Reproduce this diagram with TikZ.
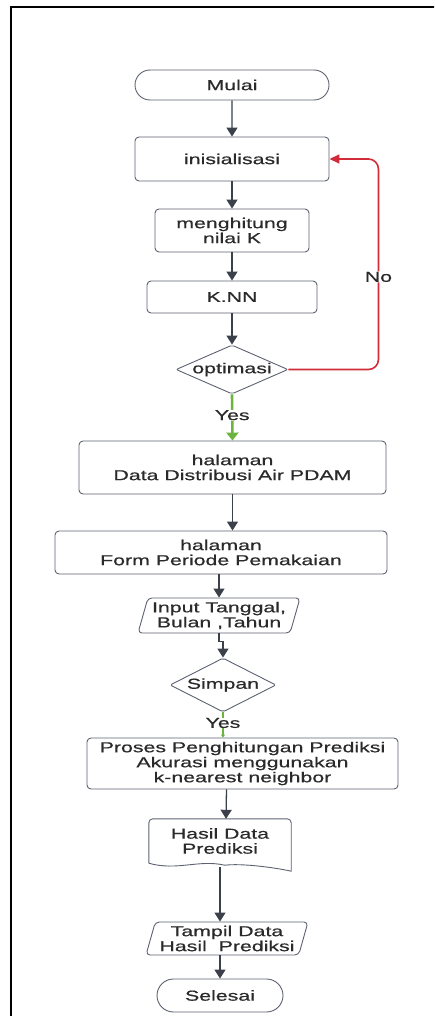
\documentclass[tikz,border=0pt]{standalone}
\usepackage{fontspec}
\setmainfont{Liberation Sans}[FakeStretch=1.48,FakeBold=0.5]
\usepackage{tikz}
\usetikzlibrary{arrows.meta,shapes.geometric,shapes.misc}
\definecolor{flowline}{HTML}{3B404B}
\definecolor{flowbox}{HTML}{5C6270}
\definecolor{flowtext}{HTML}{2A2A2A}
\definecolor{noline}{HTML}{D22B3A}
\definecolor{yesline}{HTML}{6DB33F}

\begin{document}
\begin{tikzpicture}[x=1pt,y=-1pt,font=\fontsize{14.4}{15}\selectfont,>={Triangle[length=9pt,width=11pt]},
  box/.style={rectangle,rounded corners=4pt,draw=flowbox,line width=0.9pt,text=flowtext,fill=white,inner sep=0pt,align=center},
  term/.style={rounded rectangle,draw=flowbox,line width=0.9pt,text=flowtext,fill=white,inner sep=0pt},
  decide/.style={diamond,draw=flowbox,line width=0.9pt,fill=white,inner sep=0pt,rounded corners=2pt,label={[text=flowtext,inner sep=0pt]center:#1}},
  io/.style={trapezium,trapezium left angle=70,trapezium right angle=110,trapezium stretches body,draw=flowbox,line width=0.9pt,text=flowtext,fill=white,inner sep=0pt,rounded corners=4pt,align=center},
  flow/.style={->,draw=flowline,line width=1.3pt},
  lbl/.style={fill=white,inner sep=0.5pt,text=flowtext}]
\useasboundingbox (0,0) rectangle (434,1016);
\clip (0,0) rectangle (434,1016);
% frame
\draw[line width=2pt] (11,1030) -- (11,7) -- (450,7);
% nodes
\node[term,minimum width=194pt,minimum height=30pt] (mulai) at (232,85) {Mulai};
\node[box,minimum width=194pt,minimum height=44pt] (init) at (232,159) {inisialisasi};
\node[box,minimum width=154pt,minimum height=43pt] (hitung) at (232,230.5) {menghitung\\nilai K};
\node[box,minimum width=170pt,minimum height=32pt] (knn) at (232,297) {K.NN};
\node[decide=optimasi,minimum width=112pt,minimum height=49pt] (opt) at (232,369.5) {};
\node[box,minimum width=307pt,minimum height=53pt] (pdam) at (232.5,467.5) {halaman\\Data Distribusi Air PDAM};
\node[box,minimum width=332pt,minimum height=43pt] (form) at (221,552.5) {halaman\\Form Periode Pemakaian};
\node[io,minimum width=162pt,minimum height=35pt] (input) at (219,615.5) {Input Tanggal,\\Bulan ,Tahun};
\node[decide=Simpan,minimum width=106pt,minimum height=54pt] (simpan) at (223,685) {};
\node[box,minimum width=311pt,minimum height=51pt] (proses) at (242.5,763.5) {Proses Penghitungan Prediksi\\Akurasi menggunakan\\k-nearest neighbor};
\node[rectangle,inner sep=0pt,text=flowtext,align=center,minimum width=142pt,minimum height=44pt] (hasil) at (220,841) {Hasil Data\\Prediksi};
\draw[draw=flowbox,line width=0.9pt] (hasil.south west) [rounded corners=4pt] -- (hasil.north west) -- (hasil.north east) [sharp corners] -- ([shift={(0,8)}]hasil.south east)
  .. controls ([shift={(-18,4)}]hasil.south east) and ([shift={(-50,0)}]hasil.south east) .. ([shift={(76,2)}]hasil.south west)
  .. controls ([shift={(50,-4)}]hasil.south west) and ([shift={(28,8)}]hasil.south west) .. (hasil.south west);
\node[io,minimum width=162pt,minimum height=33pt] (tampil) at (227,938.5) {Tampil Data\\Hasil\ \ Prediksi};
\node[term,minimum width=126pt,minimum height=33pt] (selesai) at (220,995.5) {Selesai};
% connectors
\draw[flow] (mulai) -- (init);
\draw[flow] (init) -- (hitung);
\draw[flow] (hitung) -- (knn);
\draw[flow] (knn) -- (opt);
\draw[->,draw=noline,line width=1.6pt,rounded corners=10pt,>={Triangle[length=10pt,width=9pt]}] (opt.east) -| node[pos=0.72,lbl] {No} ([xshift=49pt]init.east) -- (init.east);
\draw[->,draw=yesline,line width=2.6pt,>={Triangle[length=8pt,width=12pt]}] (opt.south) -- node[pos=0.45,lbl] {Yes} (pdam.north);
\draw[flow] (pdam.south) -- (pdam.south |- form.north);
\draw[flow] (form.south -| input.north) -- (input.north);
\draw[flow] (input.south) -- ++(0,8) -| (simpan.north);
\draw[->,draw=yesline,line width=1.6pt,>={Triangle[length=3pt,width=4pt]}] (simpan.south) -- node[pos=0.42,lbl,inner sep=0pt] {Yes} (proses.north -| simpan.south);
\draw[flow] ([xshift=-16pt]proses.south) -- ([xshift=6pt]hasil.north);
\draw[flow] ([yshift=-4pt]hasil.south) -- (hasil.south |- tampil.north);
\draw[flow] (selesai.north |- tampil.south) -- (selesai.north);
\end{tikzpicture}
\end{document}
